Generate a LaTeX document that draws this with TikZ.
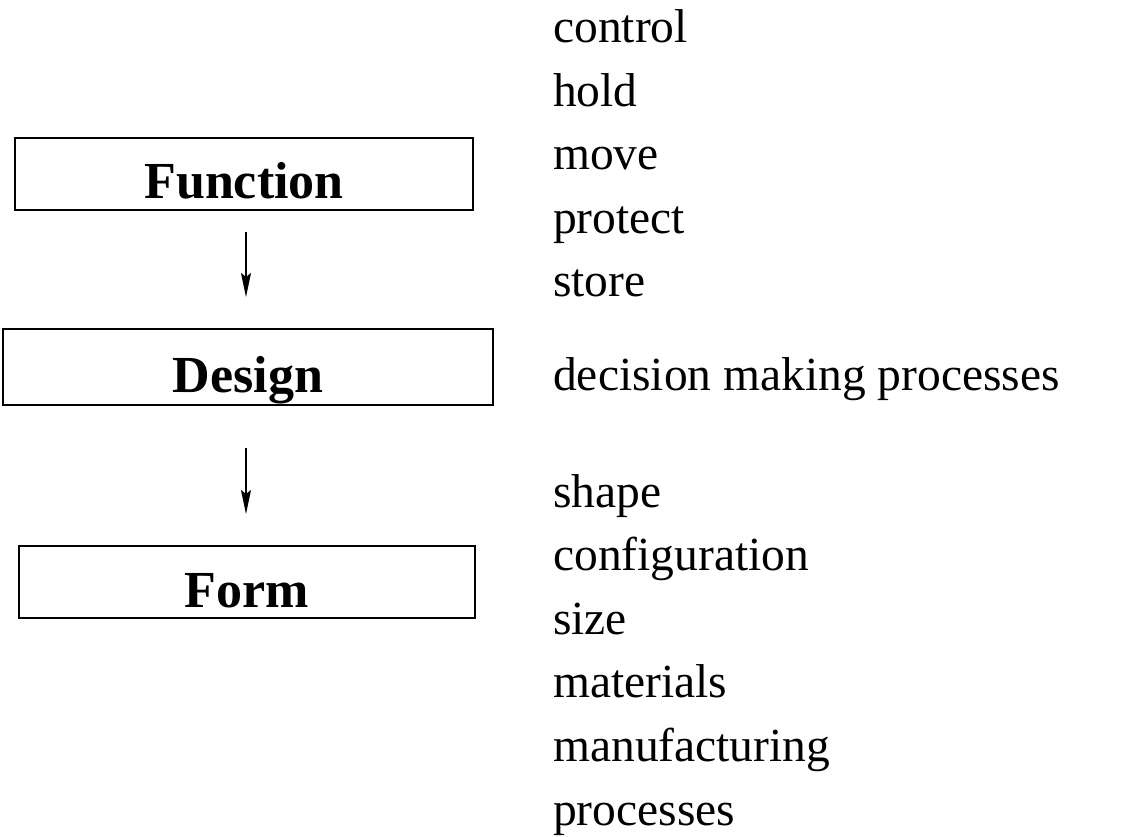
\documentclass[tikz,border=0pt]{standalone}
\usepackage{fontspec}
\setmainfont{Liberation Serif}
\usetikzlibrary{arrows.meta}

\begin{document}
\begin{tikzpicture}[x=1pt,y=-1pt,
  box/.style={draw,line width=2pt,inner sep=0pt,text height=50pt,text depth=0pt,
    font=\fontsize{52}{60}\selectfont\bfseries},
  item/.style={anchor=base west,inner sep=0pt,font=\fontsize{47.5}{57}\selectfont},
  flow/.style={->,line width=1.3pt,>={Stealth[length=24pt,width=10pt,inset=4pt]}}]
\useasboundingbox (0,0) rectangle (1125,837);

\node[box,minimum width=458pt,minimum height=72pt] (func)   at (244,174) {Function};
\node[box,minimum width=490pt,minimum height=76pt] (design) at (248,367) {Design};
\node[box,minimum width=456pt,minimum height=72pt] (form)   at (247,582) {Form};

\foreach \t [count=\i] in {control,hold,move,protect,store}
  \node[item] (fn\i) at (553,{43+63.5*(\i-1)}) {\t};
\node[item] (dm) at (553,390) {decision making processes};
\foreach \t [count=\i] in {shape,configuration,size,materials,manufacturing,processes}
  \node[item] (fm\i) at (553,{507+63.6*(\i-1)}) {\t};

\draw[flow,shorten <=21pt,shorten >=31pt] ([xshift=2pt]func.south) -- ([xshift=-2pt]design.north);
\draw[flow,shorten <=42pt,shorten >=31pt] ([xshift=-2pt]design.south) -- ([xshift=-1pt]form.north);
\end{tikzpicture}
\end{document}
